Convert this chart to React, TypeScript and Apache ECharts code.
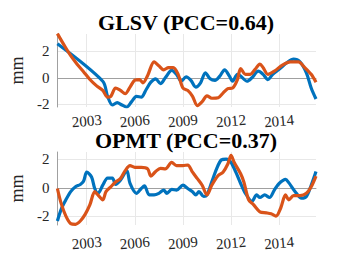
import React, { useEffect, useRef } from "react";
import * as echarts from "echarts";

const titles = ["GLSV (PCC=0.64)", "OPMT (PCC=0.37)"];
const xTickValues = [2003, 2006, 2009, 2012, 2015];
const xTickLabels = ["2003", "2006", "2009", "2012", "2014"];
const yTickValues = [-2, 0, 2];

const glsvBlue: [number, number][] = [
  [2001.17, 2.56], [2004.0, -0.26], [2004.3, -1.4], [2004.6, -2.05], [2004.9, -1.87],
  [2005.2, -2.05], [2005.5, -2.2], [2005.8, -1.8], [2006.1, -1.4], [2006.4, -1.46],
  [2006.7, -0.9], [2007.0, -0.33], [2007.3, -0.08], [2007.6, -0.44], [2007.9, 0],
  [2008.3, 0.56], [2008.6, 0.26], [2008.9, -0.26], [2009.2, 0.08], [2009.5, -0.2],
  [2009.8, -0.7], [2010.1, -0.38], [2010.4, 0.38], [2010.7, -0.08], [2011.0, -0.2],
  [2011.3, 0.13], [2011.6, 0.6], [2011.9, 0.13], [2012.1, -0.26], [2012.4, 0.26],
  [2012.6, 0.13], [2013.0, -0.26], [2013.3, 0], [2013.7, 0.5], [2014.0, 0.26],
  [2014.3, -0.13], [2014.6, 0.26], [2015.0, 0.64], [2015.5, 1.15], [2015.9, 1.4],
  [2016.3, 1.2], [2016.7, 0.38], [2017.0, -0.77], [2017.3, -1.6],
];
const glsvOrange: [number, number][] = [
  [2001.17, 3.33], [2001.6, 2.44], [2002.0, 1.67], [2002.4, 1.03], [2002.8, 0.46],
  [2003.2, -0.13], [2003.6, -0.59], [2004.0, -0.95], [2004.3, -1.46], [2004.5, -1.4],
  [2004.8, -0.77], [2005.1, -0.95], [2005.4, -1.2], [2005.7, -0.7], [2006.0, -0.18],
  [2006.3, -0.13], [2006.5, -0.38], [2006.8, 0.18], [2007.2, 1.2], [2007.5, 0.9],
  [2007.8, 0.6], [2008.1, 0.77], [2008.4, 0.77], [2008.7, 0.26], [2009.0, -0.77],
  [2009.3, -0.95], [2009.6, -1.4], [2009.9, -2.1], [2010.2, -1.8], [2010.5, -1.36],
  [2010.8, -1.54], [2011.2, -1.5], [2011.5, -1.15], [2011.8, -0.82], [2012.1, -0.77],
  [2012.4, -0.13], [2012.6, 0.7], [2012.9, 0.26], [2013.2, 0.26], [2013.5, 0.64],
  [2013.8, 1.03], [2014.0, 0.77], [2014.3, 0.26], [2014.7, 0.5], [2015.2, 0.95],
  [2015.7, 1.2], [2016.2, 1.2], [2016.6, 0.77], [2017.0, 0.26], [2017.3, -0.33],
];
const opmtBlue: [number, number][] = [
  [2001.17, -2.32], [2001.4, -1.52], [2001.7, -0.84], [2002.0, -0.27], [2002.3, 0.07],
  [2002.6, 0.23], [2002.8, 0.45], [2003.0, 1.09], [2003.3, 0.75], [2003.5, -0.05],
  [2003.7, -0.39], [2004.0, 0.18], [2004.3, 0.68], [2004.6, 0.68], [2004.8, 0.23],
  [2005.1, 0.52], [2005.5, 1.2], [2005.7, 0.3], [2006.1, -0.39], [2006.4, -0.05],
  [2006.6, 0.14], [2006.9, -0.5], [2007.2, -0.5], [2007.5, -0.39], [2007.8, -0.16],
  [2008.0, -0.39], [2008.3, -0.11], [2008.6, -0.16], [2009.0, 0.18], [2009.3, -0.05],
  [2009.6, -0.27], [2009.8, -0.5], [2010.0, -0.27], [2010.3, -0.61], [2010.5, -0.5],
  [2010.8, 0.41], [2011.1, 1.32], [2011.4, 1.95], [2011.7, 2.0], [2012.0, 1.77],
  [2012.3, 1.09], [2012.6, 0.3], [2012.9, -0.39], [2013.3, -0.95], [2013.6, -0.5],
  [2013.8, -0.68], [2014.1, -0.5], [2014.4, -0.68], [2014.7, -0.16], [2015.0, 0.3],
  [2015.4, 0.59], [2015.6, 0.36], [2016.0, -0.27], [2016.4, -0.73], [2016.7, -0.61],
  [2017.0, 0.18], [2017.3, 1.14],
];
const opmtOrange: [number, number][] = [
  [2001.17, -0.05], [2001.4, -1.07], [2001.7, -1.98], [2002.0, -2.5], [2002.3, -2.55],
  [2002.6, -2.32], [2002.9, -1.86], [2003.2, -1.18], [2003.5, -0.27], [2003.7, -0.5],
  [2004.0, -0.84], [2004.2, -0.27], [2004.5, 0.07], [2004.8, 0.41], [2005.1, 0.64],
  [2005.4, 1.2], [2005.7, 1.55], [2006.0, 1.43], [2006.4, 1.43], [2006.8, 1.32],
  [2007.0, 0.82], [2007.3, 1.14], [2007.6, 1.36], [2007.9, 1.32], [2008.3, 1.77],
  [2008.6, 1.55], [2009.0, 1.55], [2009.3, 1.59], [2009.6, 1.09], [2009.9, 0.64],
  [2010.2, 0.18], [2010.5, -0.5], [2010.8, 0.18], [2011.2, 0.86], [2011.5, 1.09],
  [2011.8, 1.66], [2012.0, 2.27], [2012.2, 1.77], [2012.6, 0.98], [2012.8, 0.41],
  [2013.1, -0.84], [2013.4, -1.18], [2013.8, -1.68], [2014.2, -1.75], [2014.5, -1.82],
  [2014.8, -1.98], [2015.1, -1.41], [2015.4, -0.5], [2015.6, -0.84], [2015.9, -0.55],
  [2016.3, -0.55], [2016.7, -0.39], [2017.0, 0.07], [2017.3, 0.82],
];

const BLUE = "#0072BD";
const ORANGE = "#D95319";
const FONT = "Liberation Serif";

export default function App() {
  const ref = useRef<HTMLDivElement>(null);
  useEffect(() => {
    if (!ref.current) return;
    const chart = echarts.init(ref.current, null, { renderer: "svg" });
    const xAxisCommon = (margin: number) => ({
      type: "value" as const,
      min: 2001.17,
      max: 2017.3,
      axisLine: { show: true, lineStyle: { color: "#a0a0a0", width: 1 } },
      axisTick: { show: false, customValues: xTickValues },
      splitLine: { show: true, lineStyle: { color: "#e8e8e8", width: 1 } },
      axisLabel: {
        customValues: xTickValues,
        formatter: (v: number) => xTickLabels[xTickValues.indexOf(Math.round(v))] ?? "",
        fontFamily: FONT,
        fontSize: 15,
        color: "#262626",
        rotate: 5,
        align: "center",
        verticalAlign: "middle",
        margin,
      },
    });
    const yAxisCommon = (min: number, max: number) => ({
      type: "value" as const,
      min,
      max,
      name: "mm",
      nameLocation: "middle" as const,
      nameGap: 26,
      nameRotate: 90,
      nameTextStyle: { fontFamily: FONT, fontSize: 18, color: "#262626" },
      axisLine: { show: true, lineStyle: { color: "#a0a0a0", width: 1 } },
      axisTick: { show: false, customValues: yTickValues },
      splitLine: { show: true, lineStyle: { color: "#e8e8e8", width: 1 } },
      axisLabel: {
        customValues: yTickValues,
        fontFamily: FONT,
        fontSize: 15,
        color: "#262626",
        margin: 8,
      },
    });
    const line = (data: [number, number][], color: string, idx: number) => ({
      type: "line" as const,
      xAxisIndex: idx,
      yAxisIndex: idx,
      data,
      showSymbol: false,
      smooth: 0.3,
      lineStyle: { color, width: 3.2 },
      z: color === ORANGE ? 3 : 2,
    });
    chart.setOption({
      animation: false,
      backgroundColor: "#ffffff",
      title: [
        {
          text: titles[0],
          left: 181,
          top: 6,
          textAlign: "center",
          textStyle: { fontFamily: FONT, fontSize: 22, fontWeight: "bold", color: "#000" },
        },
        {
          text: titles[1],
          left: 181,
          top: 124,
          textAlign: "center",
          textStyle: { fontFamily: FONT, fontSize: 22, fontWeight: "bold", color: "#000" },
        },
      ],
      grid: [
        { left: 46, top: 34, width: 270, height: 73 },
        { left: 46, top: 152, width: 270, height: 73 },
      ],
      xAxis: [
        { ...xAxisCommon(14), gridIndex: 0 },
        { ...xAxisCommon(18), gridIndex: 1 },
      ],
      yAxis: [
        { ...yAxisCommon(-2.2, 3.3), gridIndex: 0 },
        { ...yAxisCommon(-2.6, 2.5), gridIndex: 1 },
      ],
      series: [
        line(glsvBlue, BLUE, 0),
        line(glsvOrange, ORANGE, 0),
        line(opmtBlue, BLUE, 1),
        line(opmtOrange, ORANGE, 1),
      ],
    });
    return () => chart.dispose();
  }, []);
  return (
    <div
      ref={ref}
      style={{ position: "fixed", left: 0, top: 0, width: 349, height: 262 }}
    />
  );
}
